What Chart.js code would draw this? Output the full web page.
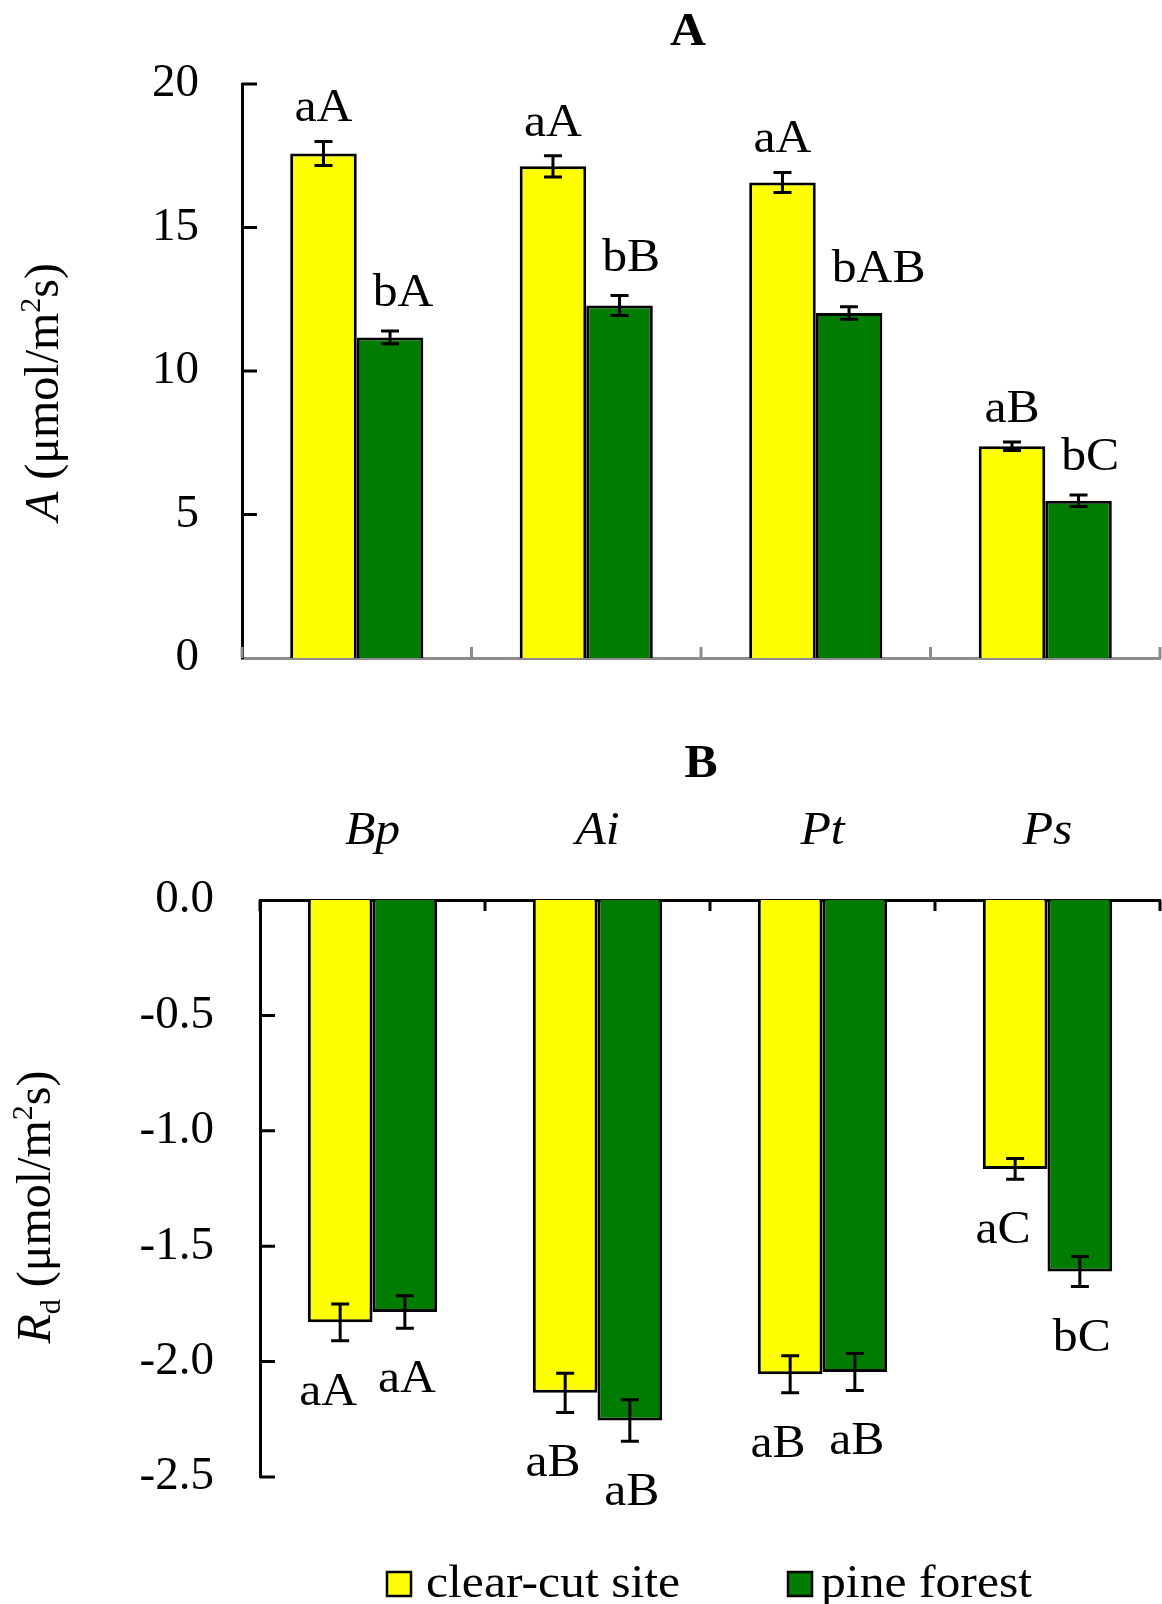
<!DOCTYPE html>
<html>
<head>
<meta charset="utf-8">
<script src="https://cdn.jsdelivr.net/npm/chart.js@4.4.1/dist/chart.umd.min.js"></script>
<style>
  html, body { margin: 0; padding: 0; background: #fff; }
  #wrap { position: relative; width: 1162px; height: 1604px; overflow: hidden; background: #fff; }
  canvas { position: absolute; left: 0; }
  #chartA { top: 0; }
  #chartRd { top: 700px; }
</style>
</head>
<body>
<div id="wrap">
  <canvas id="chartA" width="1162" height="700"></canvas>
  <canvas id="chartRd" width="1162" height="904"></canvas>
</div>
<script>
// species (x categories)
const species = ['Bp', 'Ai', 'Pt', 'Ps']

// panel A: net photosynthesis
const aClear = [17.58, 17.13, 16.57, 7.38]
const aClearErr = [0.42, 0.37, 0.35, 0.15]
const aPine = [11.17, 12.28, 12.02, 5.48]
const aPineErr = [0.22, 0.35, 0.22, 0.2]
const aClearLetters = ['aA', 'aA', 'aA', 'aB']
const aPineLetters = ['bA', 'bB', 'bAB', 'bC']
const aTicks = [0, 5, 10, 15, 20]

// panel B: dark respiration
const rdClear = [-1.83, -2.135, -2.055, -1.165]
const rdClearErr = [0.08, 0.085, 0.08, 0.045]
const rdPine = [-1.785, -2.255, -2.045, -1.61]
const rdPineErr = [0.07, 0.09, 0.08, 0.065]
const rdClearLetters = ['aA', 'aB', 'aB', 'aC']
const rdPineLetters = ['aA', 'aB', 'aB', 'bC']
const rdTicks = [0, -0.5, -1.0, -1.5, -2.0, -2.5]

const seriesNames = ['clear-cut site', 'pine forest']

const YELLOW = '#ffff00'
const GREEN = '#007d00'
const SERIF = '"Liberation Serif", "Times New Roman", serif'
const SX = 1.08 // the figure is a bit wider than tall

function drawText(ctx, text, x, y, align, font) {
  ctx.save()
  ctx.font = font
  ctx.fillStyle = '#000'
  ctx.textAlign = 'left'
  ctx.textBaseline = 'alphabetic'
  const w = ctx.measureText(text).width * SX
  const left = align === 'left' ? x : (align === 'right' ? x - w : x - w / 2)
  ctx.translate(left, y)
  ctx.scale(SX, 1)
  ctx.fillText(text, 0, 0)
  ctx.restore()
}

function drawRotatedTitle(ctx, parts, cx, cy) {
  ctx.save()
  ctx.fillStyle = '#000'
  ctx.textBaseline = 'alphabetic'
  ctx.textAlign = 'left'
  ctx.translate(cx, cy)
  ctx.rotate(-Math.PI / 2)
  let total = 0
  parts.forEach(p => { ctx.font = p.font; p.w = ctx.measureText(p.text).width; total += p.w })
  let x = -total / 2
  parts.forEach(p => { ctx.font = p.font; ctx.fillText(p.text, x, p.dy || 0); x += p.w })
  ctx.restore()
}

// error bars + significance letters
const errorBarPlugin = {
  id: 'errorBars',
  afterDatasetsDraw(chart, args, opts) {
    const ctx = chart.ctx
    const yScale = chart.scales.y
    chart.data.datasets.forEach((ds, i) => {
      const meta = chart.getDatasetMeta(i)
      const pos = opts.letterPos[i]
      meta.data.forEach((bar, j) => {
        const v = ds.data[j], e = ds.errors[j]
        const yHi = yScale.getPixelForValue(v + e)
        const yLo = yScale.getPixelForValue(v - e)
        ctx.save()
        ctx.strokeStyle = '#000'
        ctx.lineWidth = 3
        ctx.beginPath()
        ctx.moveTo(bar.x, yHi); ctx.lineTo(bar.x, yLo)
        ctx.moveTo(bar.x - 9, yHi); ctx.lineTo(bar.x + 9, yHi)
        ctx.moveTo(bar.x - 9, yLo); ctx.lineTo(bar.x + 9, yLo)
        ctx.stroke()
        ctx.restore()

        const x = pos.align === 'left' ? bar.x - bar.width / 2 + pos.dx : bar.x + pos.dx
        const y = pos.below ? yLo + pos.dy : yHi - pos.dy
        drawText(ctx, ds.letters[j], x, y, pos.align, '46px ' + SERIF)
      })
    })
  }
}

// inward tick marks, category names, titles, legend
const decorPlugin = {
  id: 'decor',
  afterDraw(chart, args, o) {
    const ctx = chart.ctx
    const xs = chart.scales.x, ys = chart.scales.y
    const area = chart.chartArea
    ctx.save()
    ctx.lineWidth = 3
    ctx.strokeStyle = '#000'
    ctx.beginPath()
    ys.ticks.forEach(t => {
      if (t.value === 0) return
      const py = ys.getPixelForValue(t.value)
      ctx.moveTo(area.left, py); ctx.lineTo(area.left + 15, py)
    })
    ctx.stroke()

    const axisY = o.xAxisTop ? area.top : area.bottom
    const dir = o.xAxisTop ? 1 : -1
    const catW = (area.right - area.left) / species.length
    ctx.strokeStyle = o.xColor
    ctx.beginPath()
    for (let i = 0; i <= species.length; i++) {
      const px = area.left + i * catW
      ctx.moveTo(px, axisY); ctx.lineTo(px, axisY + dir * 11)
    }
    ctx.stroke()
    ctx.restore()

    if (o.showNames) {
      species.forEach((name, i) => {
        drawText(ctx, name, xs.getPixelForValue(i), area.top - 56, 'center', 'italic 46px ' + SERIF)
      })
    }

    drawText(ctx, o.title.text, o.title.x, o.title.y, 'center', 'bold 46px ' + SERIF)
    drawRotatedTitle(ctx, o.yTitle.parts, o.yTitle.x, o.yTitle.y)

    if (o.legend) {
      const colors = [YELLOW, GREEN]
      o.legend.items.forEach((it, i) => {
        ctx.save()
        ctx.fillStyle = colors[i]
        ctx.fillRect(it.box, o.legend.y, 24, 24)
        ctx.strokeStyle = '#000'
        ctx.lineWidth = 2.5
        ctx.strokeRect(it.box, o.legend.y, 24, 24)
        ctx.restore()
        drawText(ctx, seriesNames[i], it.text, o.legend.y + 25, 'left', '46px ' + SERIF)
      })
    }
  }
}

function makeDatasets(clear, clearErr, clearLet, pine, pineErr, pineLet) {
  return [
    { label: seriesNames[0], data: clear, errors: clearErr, letters: clearLet,
      backgroundColor: YELLOW, borderColor: '#000', borderWidth: 3 },
    { label: seriesNames[1], data: pine, errors: pineErr, letters: pineLet,
      backgroundColor: GREEN, borderColor: '#000', borderWidth: 3 }
  ]
}

const tickFont = { family: SERIF, size: 47 }

// fixed axis width, and no extra room reserved for the end labels
function fixYAxis(width) {
  return s => {
    s.width = width
    s.paddingTop = 0
    s.paddingBottom = 0
  }
}

new Chart(document.getElementById('chartA'), {
  type: 'bar',
  data: {
    labels: species,
    datasets: makeDatasets(aClear, aClearErr, aClearLetters, aPine, aPineErr, aPineLetters)
  },
  options: {
    responsive: false,
    animation: false,
    events: [],
    layout: { padding: { top: 84, bottom: 42, left: 0, right: 2 } },
    datasets: { bar: { categoryPercentage: 0.58, barPercentage: 1 } },
    plugins: {
      legend: { display: false },
      tooltip: { enabled: false },
      errorBars: {
        letterPos: [
          { align: 'center', dx: 0, dy: 20 },
          { align: 'left', dx: 16, dy: 25 }
        ]
      },
      decor: {
        xAxisTop: false,
        xColor: '#8c8c8c',
        showNames: false,
        title: { text: 'A', x: 688, y: 45 },
        yTitle: {
          x: 58, y: 392,
          parts: [
            { text: 'A', font: 'italic 48px ' + SERIF },
            { text: ' (μmol/m', font: '48px ' + SERIF },
            { text: '2', font: '30px ' + SERIF, dy: -18 },
            { text: 's)', font: '48px ' + SERIF }
          ]
        }
      }
    },
    scales: {
      x: {
        z: 1,
        ticks: { display: false },
        grid: { display: false, drawTicks: false },
        border: { color: '#8c8c8c', width: 3 },
        afterFit: s => { s.height = 0 }
      },
      y: {
        min: 0,
        max: 20,
        afterBuildTicks: s => { s.ticks = aTicks.map(v => ({ value: v })) },
        ticks: { padding: 43, color: '#000', font: tickFont },
        grid: { display: false, drawTicks: false },
        border: { color: '#000', width: 3 },
        afterFit: fixYAxis(242)
      }
    }
  },
  plugins: [errorBarPlugin, decorPlugin]
})

new Chart(document.getElementById('chartRd'), {
  type: 'bar',
  data: {
    labels: species,
    datasets: makeDatasets(rdClear, rdClearErr, rdClearLetters, rdPine, rdPineErr, rdPineLetters)
  },
  options: {
    responsive: false,
    animation: false,
    events: [],
    layout: { padding: { top: 200, bottom: 127, left: 0, right: 2 } },
    datasets: { bar: { categoryPercentage: 0.575, barPercentage: 1 } },
    plugins: {
      legend: { display: false },
      tooltip: { enabled: false },
      errorBars: {
        letterPos: [
          { align: 'center', dx: -12, dy: 64, below: true },
          { align: 'center', dx: 2, dy: 64, below: true }
        ]
      },
      decor: {
        xAxisTop: true,
        xColor: '#000',
        showNames: true,
        title: { text: 'B', x: 701, y: 77 },
        yTitle: {
          x: 50, y: 507,
          parts: [
            { text: 'R', font: 'italic 48px ' + SERIF },
            { text: 'd', font: '30px ' + SERIF, dy: 10 },
            { text: ' (μmol/m', font: '48px ' + SERIF },
            { text: '2', font: '30px ' + SERIF, dy: -18 },
            { text: 's)', font: '48px ' + SERIF }
          ]
        },
        legend: {
          y: 872,
          items: [{ box: 387, text: 426 }, { box: 788, text: 821 }]
        }
      }
    },
    scales: {
      x: {
        position: 'top',
        z: 1,
        ticks: { display: false },
        grid: { display: false, drawTicks: false },
        border: { color: '#000', width: 3 },
        afterFit: s => { s.height = 0 }
      },
      y: {
        min: -2.5,
        max: 0,
        afterBuildTicks: s => { s.ticks = rdTicks.map(v => ({ value: v })) },
        ticks: { padding: 46, color: '#000', font: tickFont, callback: v => v.toFixed(1) },
        grid: { display: false, drawTicks: false },
        border: { color: '#000', width: 3 },
        afterFit: fixYAxis(260)
      }
    }
  },
  plugins: [errorBarPlugin, decorPlugin]
})
</script>
</body>
</html>
